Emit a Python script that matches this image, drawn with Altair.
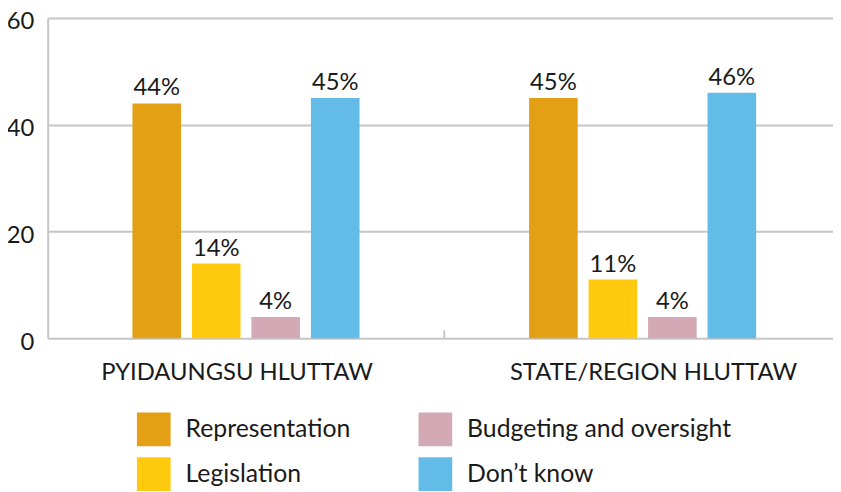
import altair as alt
import pandas as pd

groups = ["PYIDAUNGSU HLUTTAW", "STATE/REGION HLUTTAW"]
categories = ["Representation", "Legislation", "Budgeting and oversight", "Don’t know"]
pyidaungsu = [44, 14, 4, 45]
state_region = [45, 11, 4, 46]
colors = ["#E4A015", "#FFC90E", "#D4A9B6", "#63BBE8"]
y_ticks = [0, 20, 40, 60]

rows = []
for g, vals in zip(groups, [pyidaungsu, state_region]):
    for c, v in zip(categories, vals):
        rows.append({"group": g, "cat": c, "value": v, "label": f"{v}%"})
df = pd.DataFrame(rows)

# separator tick between the two groups (group boundary index 1 of 2)
tick_df = pd.DataFrame({"pos": [1], "y0": [0], "y1": [1.5]})

FONT = "Lato"
GRID = "#C6C6C6"
INK = "#1a1a1a"

x_enc = alt.X("group:N", sort=groups,
              scale=alt.Scale(range=[0, 800], paddingInner=0.4, paddingOuter=0.2),
              axis=alt.Axis(title=None, domain=False, ticks=False, labelAngle=0,
                            labelFontSize=24, labelFont=FONT, labelColor=INK,
                            labelPadding=23, grid=False, labelLimit=500,
                            labelOffset={"condition": {"test": f"datum.value == '{groups[0]}'",
                                                       "value": -9},
                                         "value": 11}))
xoff_enc = alt.XOffset("cat:N", sort=categories,
                       scale=alt.Scale(paddingInner=0.183, paddingOuter=0.0915))
y_enc = alt.Y("value:Q",
              scale=alt.Scale(domain=[0, 60], nice=False),
              axis=alt.Axis(title=None, values=y_ticks, ticks=False, labelPadding=14,
                            labelFontSize=24, labelFont=FONT, labelColor=INK,
                            labelOffset=4,
                            domainColor=GRID, domainWidth=2,
                            gridColor=GRID, gridWidth=2))

base = alt.Chart(df)
bars = base.mark_bar().encode(
    x=x_enc, xOffset=xoff_enc, y=y_enc,
    color=alt.Color("cat:N", scale=alt.Scale(domain=categories, range=colors),
                    legend=alt.Legend(title=None, orient="none", legendX=90, legendY=398,
                                      columns=2, symbolType="square", symbolSize=1156,
                                      symbolStrokeWidth=0, symbolOpacity=1,
                                      labelFontSize=25, labelFont=FONT, labelColor=INK,
                                      labelOffset=15, rowPadding=11, columnPadding=68,
                                      padding=0, labelLimit=500)),
)
texts = base.mark_text(dy=-8, baseline="alphabetic", fontSize=24, font=FONT,
                       color=INK).encode(
    x=x_enc, xOffset=xoff_enc, y="value:Q", text="label:N")

tick = alt.Chart(tick_df).mark_rule(color=GRID, strokeWidth=2).encode(
    x=alt.X("pos:Q", scale=alt.Scale(domain=[0, 2], range=[0, 800]), axis=None),
    y="y0:Q", y2="y1:Q")

chart = alt.layer(alt.layer(bars, texts), tick).resolve_scale(x="independent").properties(
    width=792, height=323,
    autosize=alt.AutoSizeParams(type="none"),
    padding={"left": 40, "top": 8, "right": 0, "bottom": 153},
).configure_view(stroke="transparent")

chart.save("out.html", embed_options={"renderer": "svg", "actions": False})
